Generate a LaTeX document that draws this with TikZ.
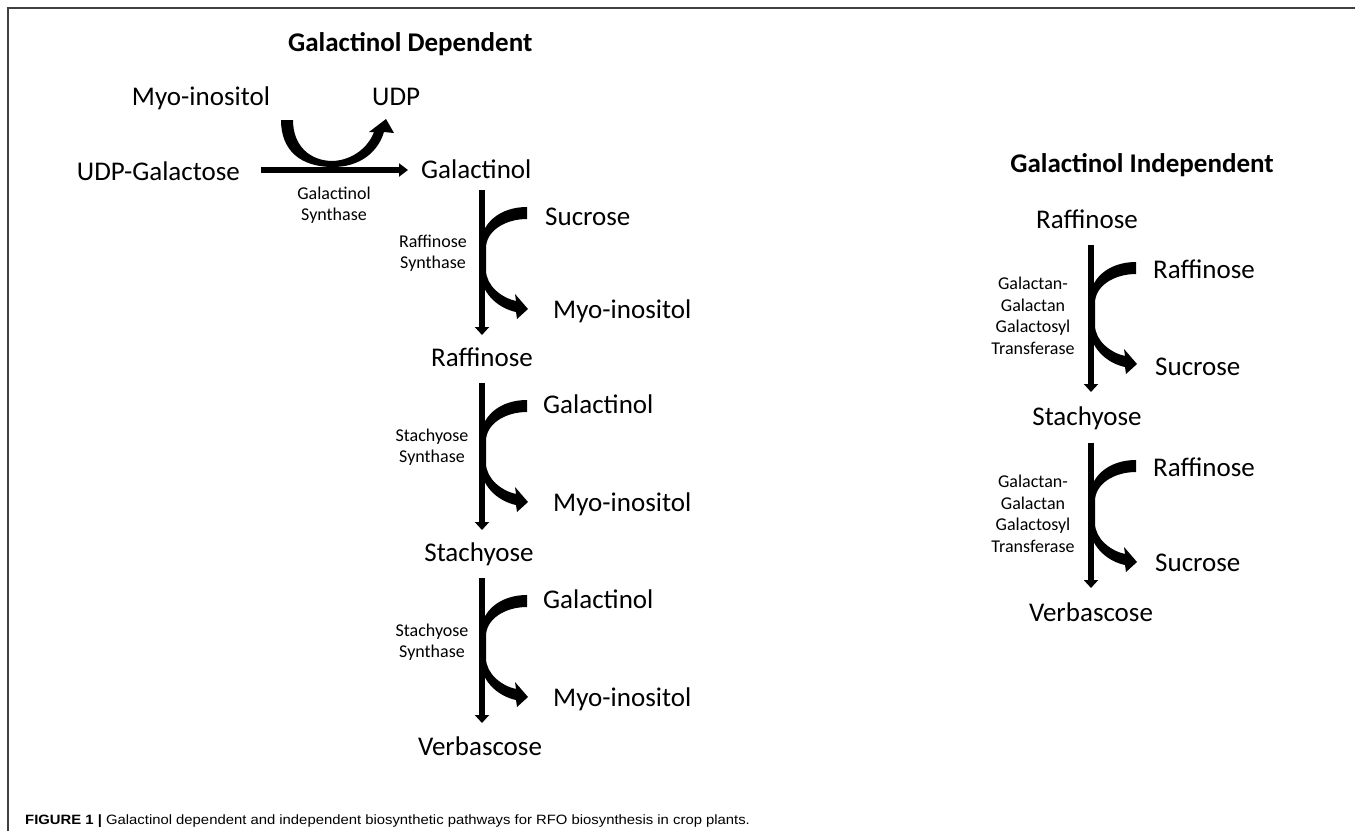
\documentclass[tikz,border=0pt]{standalone}
\usepackage{fontspec}
\setmainfont{Carlito}
\newfontfamily\capfont[FakeStretch=1.1]{Liberation Sans}
\usetikzlibrary{arrows.meta}
\begin{document}
\begin{tikzpicture}[x=1pt,y=-1pt,
  lbl/.style={font=\fontsize{27}{32}\selectfont, inner sep=0pt},
  ttl/.style={font=\fontsize{27}{32}\selectfont\bfseries, inner sep=0pt},
  enz/.style={font=\fontsize{18}{21.5}\selectfont, align=center, inner sep=0pt},
  rxn/.style={line width=6.5pt, -{Triangle[width=14pt,length=8pt]}},
  cofarrow/.pic={
    \fill (45,17) .. controls (18,17) and (-2,33) .. (-2,58) -- (-2,80)
      .. controls (-2,102) and (15,118) .. (34,122) -- (35,129) -- (46,119) -- (33,104) -- (34,111)
      .. controls (20,108) and (4,96) .. (4,80) -- (4,58)
      .. controls (4,41) and (23,29) .. (45,29) -- cycle;
  }
]
\useasboundingbox (0,0) rectangle (1355,831);
\fill[white] (0,0) rectangle (1355,831);
% frame
\draw[line width=1.5pt, black!75] (8,831) -- (8,8) -- (1355,8);

% ---------- Galactinol dependent ----------
\node[ttl, anchor=base west] (tdep) at (288,51) {Galactinol Dependent};
\node[lbl, anchor=base] (myo0) at (201,105) {Myo-inositol};
\node[lbl, anchor=base west] (udp) at (372,105) {UDP};
\node[lbl, anchor=base east] (udpgal) at (240,180) {UDP-Galactose};
\node[lbl, anchor=base west] (gal0) at (421,178) {Galactinol};
\node[enz] (e0) at (334,205) {Galactinol\\Synthase};

\coordinate (h1a) at (261,170);
\coordinate (h1b) at (408,170);
\draw[line width=6.5pt, -{Triangle[width=13pt,length=9pt]}] (h1a) -- (h1b);
% U-shaped co-substrate arrow
\fill (281,120) .. controls (281,150) and (300,167) .. (333,167)
  .. controls (360,167) and (378,152) .. (384,132) -- (394,133) -- (386,119) -- (369,132) -- (374,132)
  .. controls (368,148) and (352,160) .. (333,161)
  .. controls (310,161) and (293,146) .. (293,120) -- cycle;

% chain 1
\node[lbl, anchor=base west] (suc1) at (545,225) {Sucrose};
\node[lbl, anchor=base west] (myo1) at (553,318) {Myo-inositol};
\node[enz] (e1) at (433,253) {Raffinose\\Synthase};
\coordinate (v1a) at (482,190);
\coordinate (v1b) at (482,335);
\pic at (482,190) {cofarrow};
\draw[rxn] (v1a) -- (v1b);
\node[lbl, anchor=base] (raf) at (482,366) {Raffinose};

% chain 2
\node[lbl, anchor=base west] (gal2) at (543,413) {Galactinol};
\node[lbl, anchor=base west] (myo2) at (553,511) {Myo-inositol};
\node[enz] (e2) at (432,447) {Stachyose\\Synthase};
\coordinate (v2a) at (482,383);
\coordinate (v2b) at (482,530);
\pic at (482,383) {cofarrow};
\draw[rxn] (v2a) -- (v2b);
\node[lbl, anchor=base] (sta) at (479,561) {Stachyose};

% chain 3
\node[lbl, anchor=base west] (gal3) at (543,608) {Galactinol};
\node[lbl, anchor=base west] (myo3) at (553,706) {Myo-inositol};
\node[enz] (e3) at (432,642) {Stachyose\\Synthase};
\coordinate (v3a) at (482,578);
\coordinate (v3b) at (482,723);
\pic at (482,578) {cofarrow};
\draw[rxn] (v3a) -- (v3b);
\node[lbl, anchor=base] (ver) at (480,755) {Verbascose};

% ---------- Galactinol independent ----------
\node[ttl, anchor=base] (tind) at (1142,172) {Galactinol Independent};
\node[lbl, anchor=base] (rafi) at (1087,228) {Raffinose};
\node[lbl, anchor=base west] (rafi1) at (1153,278) {Raffinose};
\node[lbl, anchor=base west] (suci1) at (1155,375) {Sucrose};
\node[enz] (ei1) at (1033,316) {Galactan-\\Galactan\\Galactosyl\\Transferase};
\coordinate (w1a) at (1091,245);
\coordinate (w1b) at (1091,392);
\pic at (1091,245) {cofarrow};
\draw[rxn] (w1a) -- (w1b);
\node[lbl, anchor=base] (stai) at (1087,425) {Stachyose};

\node[lbl, anchor=base west] (rafi2) at (1153,476) {Raffinose};
\node[lbl, anchor=base west] (suci2) at (1155,571) {Sucrose};
\node[enz] (ei2) at (1033,514) {Galactan-\\Galactan\\Galactosyl\\Transferase};
\coordinate (w2a) at (1091,443);
\coordinate (w2b) at (1091,588);
\pic at (1091,443) {cofarrow};
\draw[rxn] (w2a) -- (w2b);
\node[lbl, anchor=base] (veri) at (1091,621) {Verbascose};

% caption
\node[anchor=base west, inner sep=0pt, font=\capfont\fontsize{13.5}{16}\selectfont] (cap) at (25,824)
  {\textbf{FIGURE 1} \textbf{|} Galactinol dependent and independent biosynthetic pathways for RFO biosynthesis in crop plants.};
\end{tikzpicture}
\end{document}
